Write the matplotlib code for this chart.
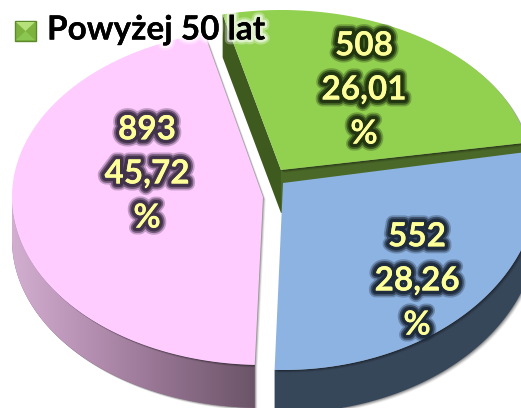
import numpy as np
import matplotlib
matplotlib.use("Agg")
import matplotlib.pyplot as plt
import matplotlib.patheffects as pe
from matplotlib.colors import LinearSegmentedColormap
from matplotlib.patches import Polygon, Rectangle

plt.rcParams['font.family'] = ['Lato', 'DejaVu Sans']

counts = [508, 552, 893]
percents = ["26,01", "28,26", "45,72"]
legendLabel = "Powyżej 50 lat"

# slice geometry in pixels, one entry per slice (the pie is drawn in perspective)
centers = [(281, 170), (283, 183), (263, 197)]
radiiX = [250, 255, 251]
radiiY = [160, 187, 168]
labelPos = [(364, 90), (417, 281), (147, 174)]
startAngle = 103.5
depth = 43

faceColors = ["#92D050", "#8DB3E2", "#FFCCFF"]
sideColors = ["#4A6828", "#37475A", "#8A6A88"]

fig = plt.figure(figsize=(5.21, 4.08), dpi=100)
ax = fig.add_axes([0, 0, 1, 1])
ax.set_xlim(0, 521)
ax.set_ylim(408, 0)
ax.axis("off")

# slice angles, clockwise from startAngle
sweeps = 360 * np.array(counts) / sum(counts)
ends = startAngle - np.cumsum(sweeps)
starts = ends + sweeps


def arc(i, a0, a1):
    t = np.radians(np.linspace(a0, a1, 120))
    cx, cy = centers[i]
    return np.column_stack([cx + radiiX[i] * np.cos(t), cy - radiiY[i] * np.sin(t)])


def shadow(pts, z):
    for off, alpha in [(4, 0.06), (3, 0.10), (2, 0.14), (1, 0.18)]:
        ax.add_patch(Polygon(pts + off * 0.7, closed=True, fc="black", ec="none", alpha=alpha, zorder=z))


def face(i, z):
    c = np.array(centers[i])
    pts = np.vstack([c, arc(i, starts[i], ends[i])])
    shadow(pts, z)
    ax.add_patch(Polygon(pts, closed=True, fc=faceColors[i], ec="none", zorder=z + 0.1))


def rimSide(i, a0, a1, z):
    top = arc(i, a0, a1)
    bottom = top + [0, depth]
    pts = np.vstack([top, bottom[::-1]])
    shadow(pts, z)
    return Polygon(pts, closed=True, fc=sideColors[i], ec="none", zorder=z + 0.1), pts


# green slice: two cut sides, then the top
g = 0
gc = np.array(centers[g])
gLeft = arc(g, starts[g], starts[g])[0]
gRight = arc(g, ends[g], ends[g])[0]
ax.add_patch(Polygon([gLeft, gc, gc + [0, depth], gLeft + [0, depth]], closed=True,
                     fc="#3F5A1E", ec="none", zorder=1))
ax.add_patch(Polygon([gc, gRight, gRight + [0, depth], gc + [0, depth]], closed=True,
                     fc=sideColors[g], ec="none", zorder=1.1))
face(g, 2)

# blue slice rim and top
patch, _ = rimSide(1, 0, ends[1], 3)
ax.add_patch(patch)
face(1, 4)

# pink slice rim with a horizontal gradient, then the top
patch, pts = rimSide(2, starts[2], -180, 5)
ax.add_patch(patch)
cmap = LinearSegmentedColormap.from_list("rim", ["#D2AED0", "#B48EB0", "#8F6F8C", "#6B5468"])
grad = ax.imshow(np.linspace(0, 1, 256)[None, :], cmap=cmap, aspect="auto",
                 extent=[pts[:, 0].min(), pts[:, 0].max(), pts[:, 1].max(), pts[:, 1].min()],
                 zorder=5.2)
grad.set_clip_path(patch)
ax.set_xlim(0, 521)
ax.set_ylim(408, 0)
face(2, 6)

# value labels with a dark glow that follows the slice colour
glows = ["#1F3310", "#1E2A3C", "#40304A"]
for i in range(3):
    txt = f"{counts[i]}\n{percents[i]}\n%"
    t = ax.text(labelPos[i][0], labelPos[i][1], txt, ha="center", va="center", fontsize=24,
                fontweight="bold", color="#FFFF99", linespacing=1.63, zorder=10)
    t.set_path_effects([
        pe.withStroke(linewidth=10, foreground=glows[i], alpha=0.3),
        pe.withStroke(linewidth=7.5, foreground=glows[i], alpha=0.6),
        pe.withStroke(linewidth=5, foreground=glows[i], alpha=0.95),
        pe.Normal(),
    ])

# legend key and text
ax.add_patch(Rectangle((15, 21), 21, 20, fc="#7DB23E", ec="#5C8A2A", lw=1, zorder=11))
ax.add_patch(Polygon([(16, 22), (35, 22), (25.5, 31)], closed=True, fc="#B5E07A", ec="none", zorder=11.1))
ax.add_patch(Polygon([(16, 40), (35, 40), (25.5, 31)], closed=True, fc="#8CC652", ec="none", zorder=11.1))
lg = ax.text(47, 30, legendLabel, ha="left", va="center", fontsize=24, fontweight="bold",
             color="black", zorder=12)
lg.set_path_effects([
    pe.withStroke(linewidth=7, foreground="white", alpha=0.3),
    pe.withStroke(linewidth=4, foreground="white", alpha=0.6),
    pe.Normal(),
])

fig.savefig("out.png", dpi=100)
plt.close(fig)
